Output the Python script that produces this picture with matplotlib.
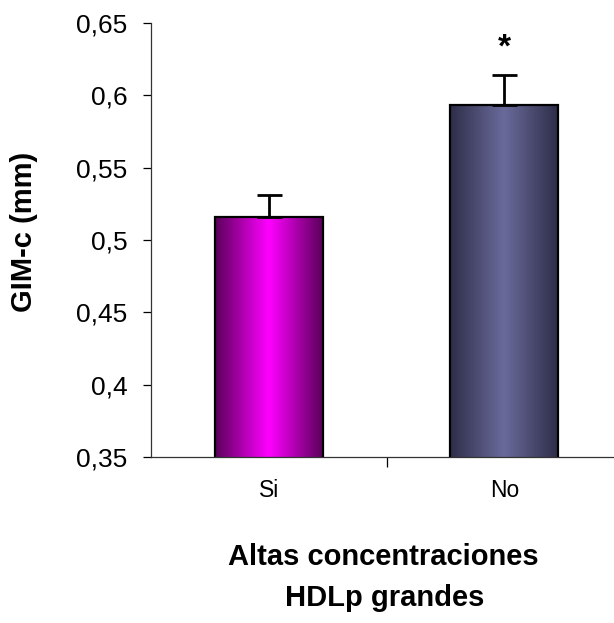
import matplotlib
matplotlib.use("Agg")
import matplotlib.pyplot as plt
import numpy as np
from matplotlib.colors import LinearSegmentedColormap

categories = ["Si", "No"]
values = [0.516, 0.593]
errors = [0.015, 0.021]
edge_colors = ["#5a005a", "#2e2e4a"]
center_colors = ["#ff00ff", "#6a6a9a"]
yticks = [0.35, 0.40, 0.45, 0.50, 0.55, 0.60, 0.65]
ytick_labels = ["0,35", "0,4", "0,45", "0,5", "0,55", "0,6", "0,65"]
significance = ["", "*"]

plt.rcParams['font.family'] = ['Liberation Sans', 'DejaVu Sans']

W, H = 614, 623
fig = plt.figure(figsize=(W / 100, H / 100), dpi=100)
ax = fig.add_axes([151 / W, (H - 457) / H, 471 / W, 434 / H])

x = np.arange(len(categories))
bars = ax.bar(x, values, width=0.458, color="none", edgecolor="black",
              linewidth=1.6, zorder=3)
ax.set_xlim(-0.5, 1.5)
ax.set_ylim(0.35, 0.65)

grad = np.concatenate([np.linspace(0, 1, 128), np.linspace(1, 0, 128)])
for b, ec, cc in zip(bars, edge_colors, center_colors):
    cmap = LinearSegmentedColormap.from_list("g", [ec, cc])
    x0, y0 = b.get_x(), 0.35
    x1, y1 = b.get_x() + b.get_width(), b.get_height()
    im = ax.imshow(grad[np.newaxis, :], cmap=cmap, aspect="auto",
                   extent=[x0, x1, y0, y1], zorder=2, interpolation="bicubic")
    im.set_clip_path(b)

ax.errorbar(x, values, yerr=[np.zeros(len(errors)), errors], fmt="none",
            ecolor="black", elinewidth=2, capsize=9, capthick=2, zorder=4)

for xi, v, e, s in zip(x, values, errors, significance):
    if s:
        ax.text(xi, v + e + 0.0125, s, ha="center", va="baseline",
                fontsize=24, fontweight="bold")

ax.set_yticks(yticks)
ax.set_yticklabels(ytick_labels, fontsize=19)
ax.tick_params(axis="y", direction="out", length=6, width=0.9, pad=11)
ax.set_xticks([0.5])
ax.set_xticklabels([""])
ax.tick_params(axis="x", direction="out", length=7, width=0.9)
for xi, c in zip(x, categories):
    ax.text(xi, -40 / 434, c, transform=ax.get_xaxis_transform(), ha="center",
            va="baseline", fontsize=16.5)

for sp in ["top", "right"]:
    ax.spines[sp].set_visible(False)
ax.spines["left"].set_linewidth(0.9)
ax.spines["bottom"].set_linewidth(0.9)
ax.spines["left"].set_color("#333333")
ax.spines["bottom"].set_color("#333333")

fig.text(383 / W, 1 - 565 / H, "Altas concentraciones", ha="center",
         va="baseline", fontsize=21, fontweight="bold")
fig.text(385 / W, 1 - 606 / H, "HDLp grandes", ha="center",
         va="baseline", fontsize=21, fontweight="bold")
fig.text(24 / W, 1 - 232 / H, "GIM-c (mm)", ha="center", va="center",
         rotation=90, fontsize=21, fontweight="bold")

fig.savefig("out.png", dpi=100)
